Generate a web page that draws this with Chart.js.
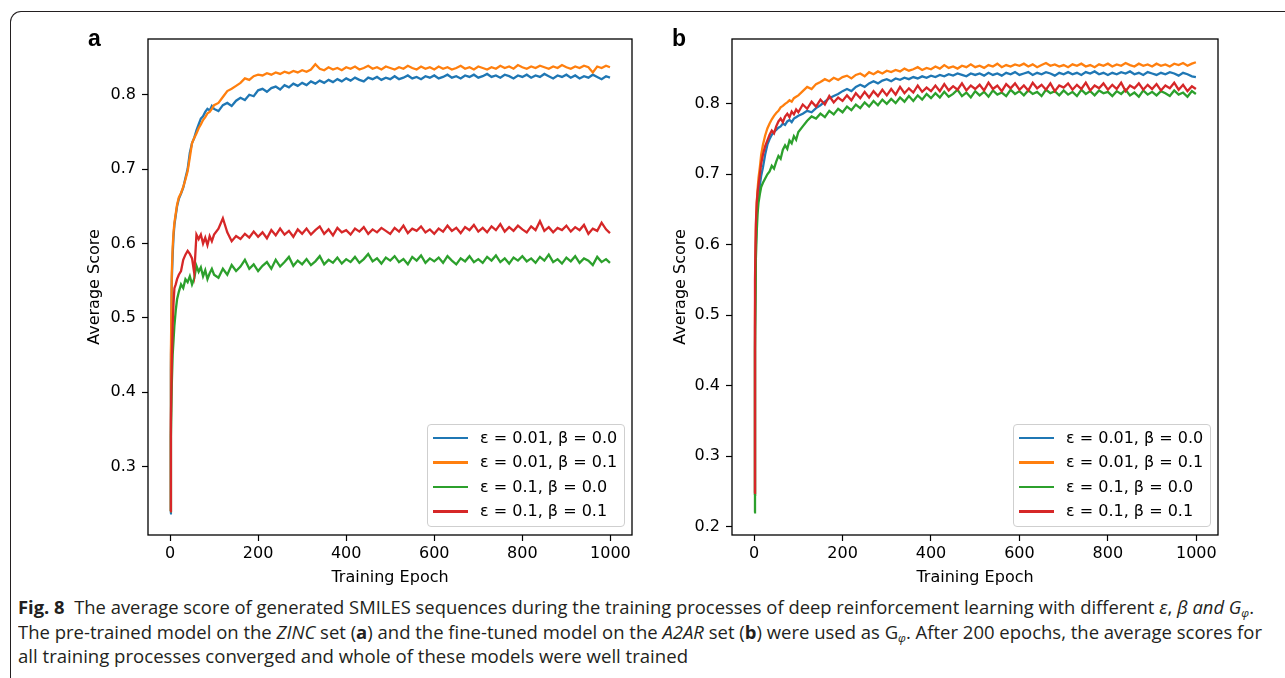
<!DOCTYPE html>
<html>
<head>
<meta charset="utf-8">
<script src="https://cdn.jsdelivr.net/npm/chart.js@4.4.1/dist/chart.umd.min.js"></script>
<style>
html, body { margin: 0; padding: 0; background: #fff; }
body { width: 1285px; height: 678px; position: relative; overflow: hidden; font-family: "DejaVu Sans", sans-serif; }
#frame { position: absolute; left: 10px; top: 11px; width: 1300px; height: 700px; border-left: 1.3px solid #231f20; border-top: 1.3px solid #231f20; border-top-left-radius: 11px; }
canvas { position: absolute; top: 0; }
#chartA { left: 0; }
#chartB { left: 645px; }
.panel { position: absolute; top: 27px; font-family: "Liberation Sans", Arial, sans-serif; font-weight: bold; font-size: 23px; line-height: 23px; color: #000; }
.legend { position: absolute; width: 198px; height: 103px; box-sizing: border-box; border: 1px solid #cfcfcf; border-radius: 4px; background: rgba(255,255,255,0.8); }
.legend .swatch { position: absolute; left: 5px; width: 35px; height: 2.2px; }
.legend .lbl { position: absolute; left: 52px; font-size: 16px; line-height: 20px; color: #000; white-space: nowrap; }
.cap { position: absolute; left: 18px; white-space: nowrap; font-family: "Open Sans", "Liberation Sans", sans-serif; font-size: 17.5px; line-height: 24.5px; color: #231f20; transform-origin: 0 0; }
.cap b { font-weight: bold; }
.cap i { font-style: italic; }
.cap sub { font-size: 11px; vertical-align: -3px; line-height: 0; }
</style>
</head>
<body>
<div id="frame"></div>
<canvas id="chartA" width="645" height="590"></canvas>
<canvas id="chartB" width="640" height="590"></canvas>
<div class="panel" style="left:88px">a</div>
<div class="panel" style="left:672px">b</div>
<div id="legA" class="legend" style="left:427px; top:424px"></div>
<div id="legB" class="legend" style="left:1013px; top:424px"></div>
<div class="cap" id="cap1" style="top:595px"><b>Fig. 8</b>&nbsp; The average score of generated SMILES sequences during the training processes of deep reinforcement learning with different <i>ε</i>, <i>β and G<sub>φ</sub></i>.</div>
<div class="cap" id="cap2" style="top:619.5px">The pre-trained model on the <i>ZINC</i> set (<b>a</b>) and the fine-tuned model on the <i>A2AR</i> set (<b>b</b>) were used as G<sub><i>φ</i></sub>. After 200 epochs, the average scores for</div>
<div class="cap" id="cap3" style="top:644px">all training processes converged and whole of these models were well trained</div>
<script>
const seriesLabels = ['ε = 0.01, β = 0.0', 'ε = 0.01, β = 0.1', 'ε = 0.1, β = 0.0', 'ε = 0.1, β = 0.1'];
const seriesColors = ['#1f77b4', '#ff7f0e', '#2ca02c', '#d62728'];
const xTicks = [0, 200, 400, 600, 800, 1000];
const yTicksA = [0.3, 0.4, 0.5, 0.6, 0.7, 0.8];
const yTicksB = [0.2, 0.3, 0.4, 0.5, 0.6, 0.7, 0.8];

const epochs = [0, 2, 4, 6, 8, 10, 13, 16, 20, 25, 30, 35, 40, 45, 50, 55, 60, 65, 70, 75, 80, 85, 90, 95, 100,
  110, 120, 130, 140, 150, 160, 170, 180, 190, 200,
  210, 220, 230, 240, 250, 260, 270, 280, 290, 300,
  310, 320, 330, 340, 350, 360, 370, 380, 390, 400,
  410, 420, 430, 440, 450, 460, 470, 480, 490, 500,
  510, 520, 530, 540, 550, 560, 570, 580, 590, 600,
  610, 620, 630, 640, 650, 660, 670, 680, 690, 700,
  710, 720, 730, 740, 750, 760, 770, 780, 790, 800,
  810, 820, 830, 840, 850, 860, 870, 880, 890, 900,
  910, 920, 930, 940, 950, 960, 970, 980, 990, 999];

// panel a (ZINC)
const aBlue = [0.237, 0.43, 0.55, 0.585, 0.61, 0.625, 0.638, 0.650, 0.660, 0.667, 0.675, 0.688, 0.700, 0.722, 0.735, 0.742, 0.752, 0.760, 0.768, 0.771, 0.777, 0.781, 0.779, 0.785, 0.781,
  0.778, 0.786, 0.789, 0.785, 0.792, 0.796, 0.793, 0.800, 0.798, 0.806,
  0.808, 0.804, 0.809, 0.811, 0.807, 0.813, 0.810, 0.815, 0.812, 0.816,
  0.813, 0.818, 0.815, 0.819, 0.816, 0.820, 0.817, 0.821, 0.818, 0.822,
  0.819, 0.823, 0.820, 0.818, 0.823, 0.821, 0.824, 0.820, 0.823, 0.821,
  0.825, 0.821, 0.823, 0.826, 0.822, 0.824, 0.821, 0.825, 0.823, 0.826,
  0.822, 0.824, 0.827, 0.823, 0.825, 0.822, 0.826, 0.824, 0.827, 0.823,
  0.825, 0.828, 0.824, 0.826, 0.823, 0.827, 0.825, 0.822, 0.826, 0.824,
  0.827, 0.823, 0.826, 0.824, 0.828, 0.825, 0.822, 0.826, 0.824, 0.827,
  0.823, 0.826, 0.822, 0.825, 0.823, 0.827, 0.824, 0.821, 0.825, 0.823];
const aOrange = [0.240, 0.45, 0.56, 0.595, 0.615, 0.628, 0.640, 0.652, 0.662, 0.668, 0.676, 0.686, 0.697, 0.716, 0.735, 0.742, 0.748, 0.755, 0.760, 0.766, 0.770, 0.775, 0.777, 0.781, 0.786,
  0.789, 0.797, 0.805, 0.808, 0.812, 0.816, 0.822, 0.820, 0.825, 0.827,
  0.826, 0.829, 0.827, 0.830, 0.828, 0.831, 0.829, 0.832, 0.830, 0.833,
  0.831, 0.834, 0.841, 0.835, 0.833, 0.837, 0.834, 0.836, 0.833, 0.837,
  0.835, 0.838, 0.834, 0.836, 0.839, 0.835, 0.837, 0.834, 0.838, 0.836,
  0.834, 0.837, 0.835, 0.839, 0.836, 0.834, 0.838, 0.835, 0.837, 0.834,
  0.838, 0.835, 0.837, 0.834, 0.836, 0.839, 0.835, 0.837, 0.834, 0.838,
  0.836, 0.834, 0.837, 0.835, 0.839, 0.836, 0.838, 0.835, 0.840, 0.837,
  0.835, 0.838, 0.836, 0.839, 0.837, 0.835, 0.838, 0.836, 0.840, 0.837,
  0.835, 0.838, 0.836, 0.839, 0.837, 0.830, 0.838, 0.836, 0.839, 0.837];
const aGreen = [0.240, 0.34, 0.41, 0.45, 0.47, 0.49, 0.51, 0.525, 0.535, 0.545, 0.540, 0.552, 0.548, 0.556, 0.545, 0.553, 0.570, 0.562, 0.568, 0.556, 0.564, 0.552, 0.560, 0.566, 0.558,
  0.554, 0.566, 0.558, 0.571, 0.563, 0.569, 0.578, 0.566, 0.572, 0.563,
  0.570, 0.575, 0.566, 0.578, 0.569, 0.575, 0.582, 0.570, 0.577, 0.572,
  0.579, 0.571, 0.576, 0.583, 0.572, 0.578, 0.574, 0.581, 0.573, 0.579,
  0.575, 0.582, 0.574, 0.579, 0.586, 0.576, 0.580, 0.573, 0.581, 0.577,
  0.583, 0.575, 0.579, 0.572, 0.582, 0.577, 0.584, 0.574, 0.580, 0.576,
  0.581, 0.574, 0.583, 0.577, 0.572, 0.580, 0.576, 0.583, 0.575, 0.579,
  0.574, 0.582, 0.577, 0.584, 0.575, 0.580, 0.573, 0.581, 0.577, 0.583,
  0.576, 0.580, 0.574, 0.582, 0.577, 0.585, 0.575, 0.579, 0.573, 0.581,
  0.576, 0.583, 0.574, 0.580, 0.577, 0.571, 0.582, 0.575, 0.579, 0.574];
const aRed = [0.240, 0.36, 0.44, 0.49, 0.52, 0.54, 0.545, 0.552, 0.558, 0.563, 0.578, 0.585, 0.590, 0.586, 0.580, 0.560, 0.612, 0.606, 0.612, 0.600, 0.608, 0.598, 0.610, 0.603, 0.612,
  0.620, 0.634, 0.615, 0.603, 0.610, 0.606, 0.613, 0.608, 0.616, 0.609,
  0.615, 0.607, 0.618, 0.611, 0.620, 0.612, 0.617, 0.609, 0.619, 0.613,
  0.620, 0.612, 0.618, 0.623, 0.613, 0.619, 0.611, 0.621, 0.615, 0.618,
  0.612, 0.620, 0.616, 0.622, 0.613, 0.619, 0.615, 0.621, 0.617, 0.613,
  0.621, 0.616, 0.624, 0.614, 0.620, 0.617, 0.623, 0.615, 0.619, 0.613,
  0.620, 0.616, 0.624, 0.617, 0.621, 0.614, 0.622, 0.618, 0.625, 0.616,
  0.621, 0.615, 0.623, 0.618, 0.626, 0.616, 0.622, 0.617, 0.624, 0.619,
  0.615, 0.623, 0.618, 0.630, 0.617, 0.622, 0.615, 0.621, 0.618, 0.624,
  0.616, 0.622, 0.618, 0.625, 0.613, 0.620, 0.617, 0.628, 0.619, 0.614];

// panel b (A2AR)
const bBlue = [0.245, 0.48, 0.60, 0.64, 0.66, 0.672, 0.685, 0.698, 0.710, 0.728, 0.742, 0.750, 0.756, 0.760, 0.763, 0.766, 0.768, 0.772, 0.770, 0.775, 0.777, 0.774, 0.779, 0.781, 0.783,
  0.786, 0.790, 0.788, 0.794, 0.798, 0.803, 0.808, 0.811, 0.814, 0.818,
  0.821, 0.818, 0.824, 0.827, 0.824, 0.829, 0.832, 0.829, 0.833, 0.835,
  0.832, 0.836, 0.834, 0.837, 0.835, 0.838, 0.836, 0.839, 0.837, 0.840,
  0.838, 0.841, 0.839, 0.842, 0.840, 0.843, 0.841, 0.839, 0.843, 0.841,
  0.843, 0.840, 0.844, 0.841, 0.843, 0.840, 0.844, 0.842, 0.845, 0.841,
  0.843, 0.845, 0.841, 0.844, 0.842, 0.845, 0.843, 0.840, 0.844, 0.842,
  0.845, 0.842, 0.844, 0.841, 0.845, 0.843, 0.846, 0.842, 0.844, 0.841,
  0.844, 0.842, 0.845, 0.843, 0.846, 0.842, 0.844, 0.841, 0.845, 0.843,
  0.841, 0.844, 0.842, 0.845, 0.843, 0.840, 0.844, 0.842, 0.839, 0.838];
const bOrange = [0.245, 0.50, 0.62, 0.66, 0.68, 0.695, 0.710, 0.728, 0.742, 0.755, 0.765, 0.772, 0.778, 0.783, 0.787, 0.790, 0.795, 0.797, 0.800, 0.802, 0.805, 0.803, 0.808, 0.810, 0.812,
  0.818, 0.824, 0.821, 0.828, 0.831, 0.835, 0.832, 0.837, 0.834, 0.838,
  0.840, 0.836, 0.841, 0.843, 0.839, 0.845, 0.842, 0.846, 0.843, 0.847,
  0.845, 0.848, 0.846, 0.850, 0.847, 0.849, 0.852, 0.848, 0.851, 0.849,
  0.853, 0.850, 0.855, 0.851, 0.853, 0.850, 0.854, 0.852, 0.856, 0.852,
  0.854, 0.851, 0.855, 0.853, 0.857, 0.852, 0.855, 0.853, 0.856, 0.854,
  0.857, 0.853, 0.856, 0.852, 0.855, 0.858, 0.854, 0.856, 0.853, 0.855,
  0.852, 0.856, 0.854, 0.857, 0.853, 0.855, 0.852, 0.856, 0.854, 0.857,
  0.853, 0.856, 0.854, 0.858, 0.855, 0.853, 0.857, 0.854, 0.856, 0.853,
  0.857, 0.854, 0.856, 0.853, 0.857, 0.855, 0.858, 0.854, 0.857, 0.859];
const bGreen = [0.220, 0.45, 0.58, 0.62, 0.645, 0.660, 0.672, 0.682, 0.688, 0.694, 0.700, 0.704, 0.712, 0.708, 0.718, 0.726, 0.722, 0.735, 0.741, 0.736, 0.748, 0.744, 0.754, 0.749, 0.760,
  0.768, 0.776, 0.782, 0.779, 0.786, 0.781, 0.790, 0.785, 0.793, 0.788,
  0.796, 0.791, 0.799, 0.794, 0.802, 0.796, 0.804, 0.798, 0.806, 0.800,
  0.807, 0.801, 0.809, 0.803, 0.811, 0.804, 0.812, 0.806, 0.814, 0.808,
  0.815, 0.809, 0.817, 0.810, 0.814, 0.820, 0.811, 0.816, 0.809, 0.818,
  0.812, 0.817, 0.810, 0.819, 0.813, 0.816, 0.811, 0.820, 0.814, 0.818,
  0.812, 0.819, 0.814, 0.817, 0.811, 0.820, 0.815, 0.818, 0.812, 0.819,
  0.813, 0.817, 0.811, 0.820, 0.814, 0.818, 0.812, 0.819, 0.815, 0.817,
  0.811, 0.818, 0.814, 0.820, 0.812, 0.816, 0.810, 0.819, 0.813, 0.817,
  0.812, 0.818, 0.815, 0.811, 0.819, 0.813, 0.816, 0.810, 0.818, 0.814];
const bRed = [0.248, 0.55, 0.63, 0.66, 0.675, 0.685, 0.700, 0.715, 0.728, 0.740, 0.748, 0.756, 0.762, 0.758, 0.768, 0.775, 0.779, 0.774, 0.782, 0.786, 0.781, 0.789, 0.785, 0.792, 0.788,
  0.799, 0.793, 0.803, 0.796, 0.806, 0.799, 0.811, 0.802, 0.809, 0.804,
  0.812, 0.805, 0.815, 0.808, 0.817, 0.809, 0.818, 0.811, 0.820, 0.812,
  0.821, 0.813, 0.824, 0.815, 0.822, 0.816, 0.826, 0.817, 0.823, 0.818,
  0.826, 0.818, 0.828, 0.819, 0.825, 0.820, 0.829, 0.819, 0.826, 0.821,
  0.827, 0.819, 0.830, 0.821, 0.826, 0.818, 0.828, 0.822, 0.829, 0.820,
  0.826, 0.819, 0.830, 0.822, 0.827, 0.820, 0.829, 0.818, 0.826, 0.823,
  0.829, 0.820, 0.827, 0.821, 0.830, 0.819, 0.826, 0.822, 0.829, 0.820,
  0.827, 0.821, 0.830, 0.818, 0.826, 0.822, 0.829, 0.820, 0.827, 0.821,
  0.828, 0.819, 0.826, 0.822, 0.830, 0.820, 0.827, 0.818, 0.825, 0.821];

const axisFont = { family: 'DejaVu Sans', size: 16 };

// matplotlib style box around the plot area
const framePlugin = {
  id: 'frame',
  afterDatasetsDraw(chart) {
    const { ctx, chartArea: a } = chart;
    ctx.save();
    ctx.strokeStyle = '#000';
    ctx.lineWidth = 1.3;
    ctx.strokeRect(a.left, a.top, a.right - a.left, a.bottom - a.top);
    ctx.restore();
  }
};

function makeChart(id, series, yMin, yMax, yTicks, yWidth, yTitlePad, padRight) {
  return new Chart(document.getElementById(id), {
    type: 'line',
    data: {
      datasets: series.map((vals, i) => ({
        label: seriesLabels[i],
        data: epochs.map((e, j) => ({ x: e, y: vals[j] })),
        borderColor: seriesColors[i],
        borderWidth: 2.3,
        pointRadius: 0,
        tension: 0,
        fill: false,
        order: 3 - i
      }))
    },
    options: {
      responsive: false,
      animation: false,
      events: [],
      layout: { padding: { top: 39, right: padRight, left: 0, bottom: 0 } },
      plugins: { legend: { display: false }, tooltip: { enabled: false } },
      scales: {
        x: {
          type: 'linear',
          min: -50,
          max: 1049,
          afterBuildTicks: s => { s.ticks = xTicks.map(v => ({ value: v })); },
          afterFit: s => { s.height = 55; },
          grid: { drawOnChartArea: false, drawTicks: true, tickLength: 6, color: '#000', tickColor: '#000', tickWidth: 1.2 },
          border: { display: false },
          ticks: { color: '#000', font: axisFont, padding: 3, maxRotation: 0, autoSkip: false, callback: v => String(v) },
          title: { display: true, text: 'Training Epoch', color: '#000', font: axisFont, padding: { top: 0, bottom: 3 } }
        },
        y: {
          type: 'linear',
          min: yMin,
          max: yMax,
          afterBuildTicks: s => { s.ticks = yTicks.map(v => ({ value: v })); },
          afterFit: s => { s.width = yWidth; },
          grid: { drawOnChartArea: false, drawTicks: true, tickLength: 6, color: '#000', tickColor: '#000', tickWidth: 1.2 },
          border: { display: false },
          ticks: { color: '#000', font: axisFont, padding: 6, autoSkip: false, callback: v => v.toFixed(1) },
          title: { display: true, text: 'Average Score', color: '#000', font: axisFont, padding: { top: yTitlePad, bottom: 0 } }
        }
      }
    },
    plugins: [framePlugin]
  });
}

const chartA = makeChart('chartA', [aBlue, aOrange, aGreen, aRed], 0.208, 0.875, yTicksA, 148, 85.4, 13);
const chartB = makeChart('chartB', [bBlue, bOrange, bGreen, bRed], 0.188, 0.892, yTicksB, 87, 26.4, 67);

function buildLegend(el) {
  const rows = [13, 37.5, 62, 86.5];
  seriesLabels.forEach((txt, i) => {
    const sw = document.createElement('div');
    sw.className = 'swatch';
    sw.style.top = (rows[i] - 1.1) + 'px';
    sw.style.background = seriesColors[i];
    el.appendChild(sw);
    const lb = document.createElement('div');
    lb.className = 'lbl';
    lb.style.top = (rows[i] - 10.5) + 'px';
    lb.textContent = txt;
    el.appendChild(lb);
  });
}
buildLegend(document.getElementById('legA'));
buildLegend(document.getElementById('legB'));

// fit caption lines to the widths they have in the figure
function fitCaption() {
  [['cap1', 1236], ['cap2', 1244], ['cap3', 670]].forEach(([id, w]) => {
    const el = document.getElementById(id);
    el.style.transform = 'none';
    const cur = el.getBoundingClientRect().width;
    el.style.transform = 'scaleX(' + (w / cur) + ')';
  });
}
fitCaption();
if (document.fonts && document.fonts.ready) document.fonts.ready.then(fitCaption);
</script>
</body>
</html>
